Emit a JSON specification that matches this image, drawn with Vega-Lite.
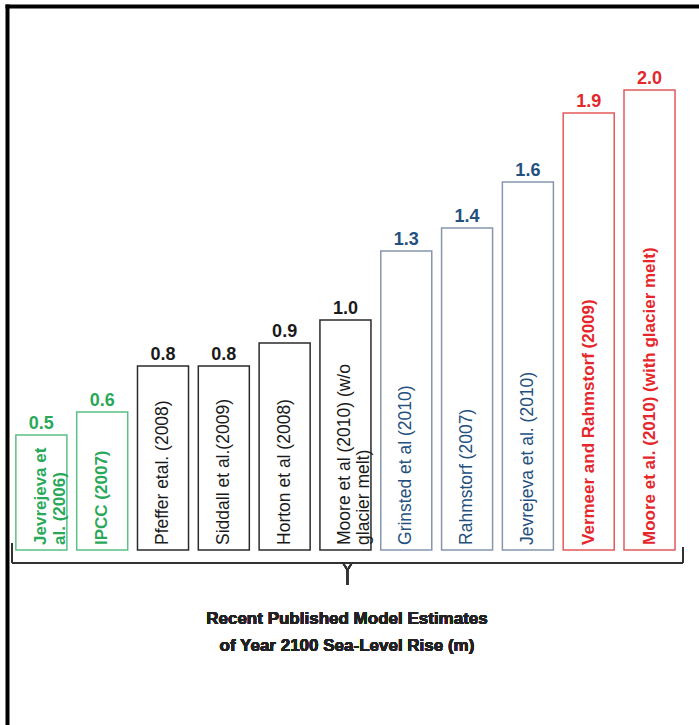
{
  "$schema": "https://vega.github.io/schema/vega-lite/v6.json",
  "width": 692,
  "height": 719,
  "autosize": {"type": "none"},
  "padding": {"left": 7, "top": 6, "right": 0, "bottom": 0},
  "background": "white",
  "config": {
    "view": {"stroke": null},
    "axis": {"labels": false, "ticks": false, "grid": false, "domainColor": "black", "domainWidth": 4, "domainCap": "square"}
  },
  "data": {
    "values": [
      {"study": "Jevrejeva et al. (2006)", "label": "Jevrejeva et\nal. (2006)", "value": 0.5, "group": "green"},
      {"study": "IPCC (2007)", "label": "IPCC (2007)", "value": 0.6, "group": "green"},
      {"study": "Pfeffer etal. (2008)", "label": "Pfeffer etal. (2008)", "value": 0.8, "group": "black"},
      {"study": "Siddall et al.(2009)", "label": "Siddall et al.(2009)", "value": 0.8, "group": "black"},
      {"study": "Horton et al (2008)", "label": "Horton  et al (2008)", "value": 0.9, "group": "black"},
      {"study": "Moore et al (2010) (w/o glacier melt)", "label": "Moore et al (2010) (w/o\nglacier melt)", "value": 1.0, "group": "black"},
      {"study": "Grinsted et al (2010)", "label": "Grinsted et al (2010)", "value": 1.3, "group": "blue"},
      {"study": "Rahmstorf (2007)", "label": "Rahmstorf (2007)", "value": 1.4, "group": "blue"},
      {"study": "Jevrejeva et al. (2010)", "label": "Jevrejeva et al. (2010)", "value": 1.6, "group": "blue"},
      {"study": "Vermeer and Rahmstorf (2009)", "label": "Vermeer and  Rahmstorf (2009)", "value": 1.9, "group": "red"},
      {"study": "Moore et al. (2010) (with glacier melt)", "label": "Moore et al.  (2010) (with glacier melt)", "value": 2.0, "group": "red"}
    ]
  },
  "resolve": {"scale": {"x": "independent"}},
  "layer": [
    {
      "layer": [
        {
          "mark": {"type": "bar", "fill": "white", "strokeWidth": 1.5},
          "encoding": {
            "x": {
              "field": "study", "type": "nominal", "sort": null,
              "scale": {"paddingInner": 0.161, "paddingOuter": 0.27, "align": 0.27},
              "axis": {"orient": "top", "title": null}
            },
            "y": {
              "field": "value", "type": "quantitative",
              "scale": {"domain": [-0.761, 2.365], "nice": false, "zero": false},
              "axis": {"title": null}
            },
            "y2": {"datum": 0},
            "stroke": {
              "field": "group", "type": "nominal", "legend": null,
              "scale": {"domain": ["green", "black", "blue", "red"], "range": ["#5cbf85", "#2b2b2b", "#8596ad", "#e35a5a"]}
            }
          }
        },
        {
          "mark": {"type": "text", "font": "Liberation Sans", "fontWeight": "bold", "fontSize": 18, "baseline": "alphabetic", "align": "center", "dy": -6},
          "encoding": {
            "x": {"field": "study", "type": "nominal", "sort": null, "axis": {"orient": "top", "title": null}},
            "y": {"field": "value", "type": "quantitative", "axis": {"title": null}},
            "text": {"field": "value", "type": "quantitative", "format": ".1f"},
            "color": {
              "field": "group", "type": "nominal", "legend": null,
              "scale": {"domain": ["green", "black", "blue", "red"], "range": ["#2aa85a", "#1a1a1a", "#24507e", "#e5262b"]}
            }
          }
        },
        {
          "transform": [{"filter": "datum.group === 'black' || datum.group === 'blue'"}],
          "mark": {"type": "text", "font": "Liberation Sans", "fontSize": 17.5, "lineHeight": 19, "lineBreak": "\n", "angle": 270, "align": "left", "baseline": "middle", "dx": 5},
          "encoding": {
            "x": {"field": "study", "type": "nominal", "sort": null, "axis": {"orient": "top", "title": null}},
            "y": {"datum": 0, "type": "quantitative", "axis": {"title": null}},
            "text": {"field": "label", "type": "nominal"},
            "color": {"field": "group", "type": "nominal", "legend": null}
          }
        },
        {
          "transform": [{"filter": "datum.group === 'green' || datum.group === 'red'"}],
          "mark": {"type": "text", "font": "Liberation Sans", "fontWeight": "bold", "fontSize": 17, "lineHeight": 19, "lineBreak": "\n", "angle": 270, "align": "left", "baseline": "middle", "dx": 5},
          "encoding": {
            "x": {"field": "study", "type": "nominal", "sort": null, "axis": {"orient": "top", "title": null}},
            "y": {"datum": 0, "type": "quantitative", "axis": {"title": null}},
            "text": {"field": "label", "type": "nominal"},
            "color": {"field": "group", "type": "nominal", "legend": null}
          }
        }
      ]
    },
    {
      "layer": [
        {
          "mark": {"type": "rule", "color": "#333333", "strokeWidth": 1.5},
          "encoding": {
            "x": {"datum": 0.72, "type": "quantitative", "scale": {"domain": [0, 100], "nice": false, "zero": false}, "axis": null},
            "x2": {"datum": 97.69},
            "y": {"datum": -0.0565, "type": "quantitative", "axis": {"title": null}}
          }
        },
        {
          "mark": {"type": "rule", "color": "#333333", "strokeWidth": 1.5},
          "encoding": {
            "x": {"datum": 0.72, "type": "quantitative", "axis": null},
            "y": {"datum": 0.03, "type": "quantitative", "axis": {"title": null}},
            "y2": {"datum": -0.0565}
          }
        },
        {
          "mark": {"type": "rule", "color": "#333333", "strokeWidth": 1.5},
          "encoding": {
            "x": {"datum": 97.69, "type": "quantitative", "axis": null},
            "y": {"datum": 0.013, "type": "quantitative", "axis": {"title": null}},
            "y2": {"datum": -0.0565}
          }
        },
        {
          "mark": {"type": "rule", "color": "#333333", "strokeWidth": 1.5},
          "encoding": {
            "x": {"datum": 48.55, "type": "quantitative", "axis": null},
            "x2": {"datum": 49.2},
            "y": {"datum": -0.0565, "type": "quantitative", "axis": {"title": null}},
            "y2": {"datum": -0.087}
          }
        },
        {
          "mark": {"type": "rule", "color": "#333333", "strokeWidth": 1.5},
          "encoding": {
            "x": {"datum": 49.85, "type": "quantitative", "axis": null},
            "x2": {"datum": 49.2},
            "y": {"datum": -0.0565, "type": "quantitative", "axis": {"title": null}},
            "y2": {"datum": -0.087}
          }
        },
        {
          "mark": {"type": "rule", "color": "#333333", "strokeWidth": 1.5},
          "encoding": {
            "x": {"datum": 49.2, "type": "quantitative", "axis": null},
            "y": {"datum": -0.087, "type": "quantitative", "axis": {"title": null}},
            "y2": {"datum": -0.152}
          }
        },
        {
          "mark": {"type": "text", "font": "Liberation Sans", "fontWeight": "bold", "fontSize": 17, "lineHeight": 27, "align": "center", "baseline": "alphabetic", "color": "#222222"},
          "encoding": {
            "x": {"datum": 49.13, "type": "quantitative", "axis": null},
            "y": {"datum": -0.322, "type": "quantitative", "axis": {"title": null}},
            "text": {"value": ["Recent Published Model Estimates", "of Year 2100 Sea-Level Rise (m)"]}
          }
        }
      ]
    }
  ]
}
